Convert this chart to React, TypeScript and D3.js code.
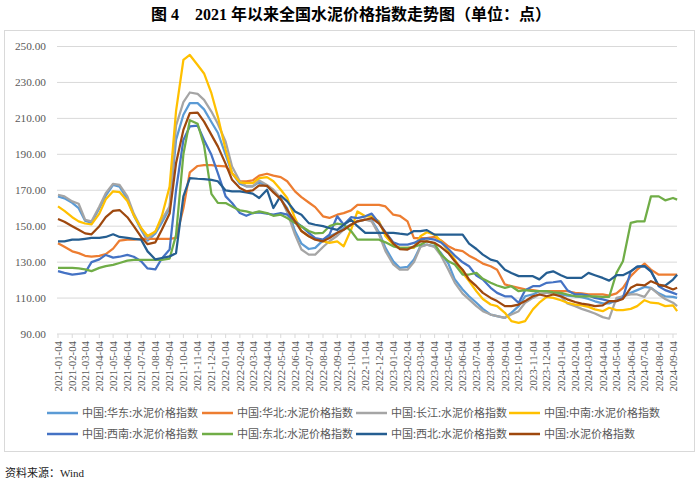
import * as d3 from 'd3'

// month labels on the x axis (Excel date axis, 4th of each month)
const tickLabels = [
  '2021-01-04', '2021-02-04', '2021-03-04', '2021-04-04', '2021-05-04', '2021-06-04',
  '2021-07-04', '2021-08-04', '2021-09-04', '2021-10-04', '2021-11-04', '2021-12-04',
  '2022-01-04', '2022-02-04', '2022-03-04', '2022-04-04', '2022-05-04', '2022-06-04',
  '2022-07-04', '2022-08-04', '2022-09-04', '2022-10-04', '2022-11-04', '2022-12-04',
  '2023-01-04', '2023-02-04', '2023-03-04', '2023-04-04', '2023-05-04', '2023-06-04',
  '2023-07-04', '2023-08-04', '2023-09-04', '2023-10-04', '2023-11-04', '2023-12-04',
  '2024-01-04', '2024-02-04', '2024-03-04', '2024-04-04', '2024-05-04', '2024-06-04',
  '2024-07-04', '2024-08-04', '2024-09-04',
]

// sample dates: 4th and 18th of each month, last point 2024-09-13
const dates = tickLabels.flatMap((t, i) =>
  i < tickLabels.length - 1 ? [t, t.slice(0, 8) + '18'] : [t, '2024-09-13']
)

const yTicks = [90, 110, 130, 150, 170, 190, 210, 230, 250]

const huadong = [
  166.5, 165.5, 163, 160, 153, 152, 160, 167, 173, 172,
  165, 156, 148, 142, 146, 152, 160, 198, 212, 218.5,
  218.5, 215, 208, 202, 189.7, 179.5, 173.6, 172.2, 172.2, 174.4,
  172.2, 169.4, 165.1, 160.1, 147.3, 140.3, 137.3, 137.9, 142.1, 144.4,
  146.3, 149, 150.8, 152.7, 153.6, 153.2, 146.6, 137.9, 130.4, 126.8,
  127.3, 131.4, 138.8, 139.7, 138.8, 135, 129.2, 120.3, 114.8, 111,
  107.4, 104, 100.8, 99.9, 99, 101.8, 105.5, 111, 112, 113.8,
  113.8, 112.9, 112, 111.4, 111, 110.5, 109.5, 108.2, 107, 107,
  108.8, 111, 112.9, 114.4, 116.2, 115.7, 112.6, 111, 110.7, 110.1,
]

const huabei = [
  140.5, 138.5, 136, 135, 133.5, 133, 133.5, 134.5, 137.5, 142,
  142.5, 142.5, 143, 143, 143, 143, 143, 143.5, 160, 180,
  183.5, 184, 184, 183.5, 183.3, 179.5, 175, 175, 175.5, 178.1,
  179.2, 178.1, 177.3, 175, 169.4, 166.2, 163.2, 160.6, 155.5, 154.6,
  156.4, 157.3, 158.8, 161.9, 161.9, 161.9, 161.9, 161, 156.4, 155.8,
  152.7, 143.4, 143.4, 143.4, 144, 142.1, 138.8, 137, 136.1, 133.6,
  131.4, 129.2, 127.7, 125.8, 117.6, 116.6, 115.7, 114.8, 114.4, 113.8,
  113.8, 113.8, 113.8, 113.8, 112.9, 112.6, 112, 112, 112, 111.4,
  112.6, 115.7, 122.2, 125.8, 129.2, 125.8, 123, 123, 123, 123,
]

const changjiang = [
  167.5, 166.6, 163.8, 162.5, 153.6, 152.7, 161, 168.4, 173.6, 173,
  166.6, 157, 149, 143, 147, 153.6, 161, 206, 219, 224.4,
  223.6, 220.3, 213.8, 207, 197, 183.2, 175, 172.2, 172.2, 175.5,
  173, 170.3, 165.7, 157.7, 145.3, 137, 134.2, 134.2, 138.4, 141.6,
  144.7, 148, 150.8, 152.7, 153.6, 152.7, 145.3, 136.1, 128.7, 125.8,
  125.8, 130, 138.4, 139.7, 138.4, 133.6, 125.8, 118.5, 112.5, 109.3,
  105.5, 102.7, 100.8, 99.9, 99, 100.8, 102.7, 107.4, 110.1, 112,
  112.9, 112.9, 110.7, 107, 105.5, 104, 102.7, 101.4, 99.4, 98.5,
  110.1, 111, 112, 112, 110.7, 115.7, 112, 109.5, 107.4, 105.5,
]

const zhongnan = [
  161, 158.5, 155, 152.7, 151.5, 151, 157, 165, 169.4, 169,
  164, 156, 149, 144.5, 147, 155.5, 172, 214, 242.5, 245.3,
  239.7, 235, 224, 211, 192.5, 179.5, 174.4, 174, 174, 176.8,
  177.3, 175, 170.3, 165.7, 154.5, 147.3, 144.4, 142.9, 141.6, 140.7,
  141.6, 138.8, 148, 158.2, 155.5, 155.5, 152.7, 144.4, 139.8, 138,
  138, 138, 144.4, 146.6, 145.3, 141.6, 136.1, 131.4, 124, 119.4,
  113.8, 109.5, 106.4, 105.5, 101.8, 97.2, 96.2, 97.2, 103.7, 107.4,
  110.7, 110.1, 108.8, 107.4, 106.4, 105.9, 105.1, 103.7, 102.7, 104.6,
  103.3, 103.3, 104, 105.5, 108.8, 107.4, 107, 105.5, 105.9, 102.7,
]

const xinan = [
  125, 124, 123, 123.5, 124, 130, 131.5, 134, 132.5, 133,
  134, 133, 130.5, 126.5, 126, 132, 137, 170, 198, 205.5,
  206, 198, 189.7, 179.5, 166.6, 162.9, 157.3, 155.8, 157.3, 157.7,
  157, 156.4, 157.3, 156.4, 152.7, 150, 146.3, 143.4, 142.5, 145.3,
  155.5, 150.8, 155, 154.5, 155.5, 157, 151.7, 146.7, 141, 139.7,
  139.7, 140.7, 142.5, 143.2, 142.5, 141, 137.3, 133.6, 129.9, 127.7,
  122.5, 120.3, 115.7, 112.9, 111, 111, 107.3, 114.4, 116.6, 116.6,
  118.5, 118.8, 119.4, 114.4, 112, 112, 111.4, 110.1, 109.3, 108.3,
  108.3, 110.1, 124.9, 127.5, 127.8, 124.9, 116.6, 114.4, 112.9, 112,
]

const dongbei = [
  126.8, 126.8, 126.8, 126.5, 126, 125, 126.8, 127.8, 128.5, 129.5,
  130.8, 131.3, 131.3, 131.3, 131.3, 131.3, 132, 145, 190, 209,
  207, 195, 168, 163, 162.9, 161, 158.8, 158.2, 157.3, 158.2,
  157.3, 155.8, 156.4, 154.5, 151.8, 150, 147.3, 146, 146.3, 150,
  151.4, 150.8, 147.3, 142.5, 142.5, 142.5, 142.5, 141, 138.8, 137.9,
  137.9, 138.4, 139.7, 141.6, 140.3, 134.2, 130.5, 128.7, 123.1, 123.1,
  124, 120.7, 118.5, 117, 115.7, 116.6, 113.8, 114.4, 113.8, 113.8,
  113.8, 113.2, 112.9, 112, 111, 111, 111, 111, 110.6, 110.6,
  124, 130.5, 151.8, 152.7, 152.7, 166.6, 166.6, 164.4, 165.7, 164.8,
]

const xibei = [
  141.5, 141.5, 142.5, 142.5, 143, 143.5, 143.5, 144, 145.5, 144,
  143.5, 143, 142.5, 136, 131.5, 132.3, 133.2, 135, 166.6, 176.8,
  176.4, 176.2, 175.8, 175, 169.9, 169.4, 169.4, 168.8, 168.1, 165.7,
  170.3, 160.1, 167, 163.8, 158.2, 156.4, 151.7, 150.8, 150, 149,
  148, 150.8, 153.6, 150, 146.3, 146.3, 146.3, 146.3, 146.3, 145.8,
  145.3, 147.3, 147.3, 147.8, 145.3, 145.3, 145.3, 145.3, 145.3, 140.3,
  137.3, 134.2, 131.4, 130.5, 125.8, 124, 122.2, 122.2, 122.2, 120.4,
  124, 124.9, 122.7, 121.2, 121.2, 121.2, 124, 122.7, 121.2, 119.7,
  122.7, 122.7, 124.9, 127.5, 127.8, 124.9, 116.9, 116.9, 120.3, 123,
]

const quanguo = [
  154, 152.5, 150, 148, 146, 145.5, 150, 155, 158.5, 159,
  155, 150, 144, 140, 141, 148, 157, 185, 203.6, 212.9,
  213.2, 208.2, 200.8, 194.4, 184.7, 175.8, 171.2, 169.4, 169.9, 172.7,
  172.5, 168.8, 165.1, 159.2, 152.7, 147.3, 144.4, 142.5, 141.6, 143.4,
  146.3, 148, 150.8, 152.7, 153.6, 154.5, 151.4, 146.3, 140.3, 137.3,
  137, 138.8, 141.6, 141.6, 140.7, 138.4, 135, 130.5, 125.8, 120.3,
  116.6, 112.9, 110.1, 108.3, 105.5, 105.5, 106.4, 108.3, 111, 112,
  111, 112, 111, 109.3, 107.8, 106.9, 106.3, 105.5, 105.9, 108.3,
  108.3, 109.5, 115.7, 117.5, 117, 119.4, 117.5, 116.6, 114.8, 115.7,
]

const series = [
  { name: '中国:华东:水泥价格指数', color: '#5B9BD5', values: huadong },
  { name: '中国:华北:水泥价格指数', color: '#ED7D31', values: huabei },
  { name: '中国:长江:水泥价格指数', color: '#A5A5A5', values: changjiang },
  { name: '中国:中南:水泥价格指数', color: '#FFC000', values: zhongnan },
  { name: '中国:西南:水泥价格指数', color: '#4472C4', values: xinan },
  { name: '中国:东北:水泥价格指数', color: '#70AD47', values: dongbei },
  { name: '中国:西北:水泥价格指数', color: '#255E91', values: xibei },
  { name: '中国:水泥价格指数', color: '#9E480E', values: quanguo },
]

const W = 700
const H = 481
const serif = "'Liberation Serif', 'Times New Roman', 'DejaVu Serif', 'Noto Sans CJK SC'"
const cjk = "'Noto Sans CJK SC', sans-serif"

export default function App() {
  const parse = d3.timeParse('%Y-%m-%d')
  const x = d3
    .scaleTime()
    .domain([parse('2021-01-04')!, parse('2024-09-04')!])
    .range([58, 673])
  const y = d3.scaleLinear().domain([90, 250]).range([334, 46.5])
  const fmt = d3.format('.2f')
  const parsedDates = dates.map(d => parse(d)!)

  const line = d3
    .line<number>()
    .x((_, i) => x(parsedDates[i]))
    .y(d => y(d))

  const legendCols = [47, 202, 356, 509]
  const legendRows = [413, 434]

  return (
    <svg
      width={W}
      height={H}
      style={{ position: 'absolute', left: 0, top: 0, background: '#fff' }}
    >
      <text
        x={351}
        y={20}
        textAnchor="middle"
        style={{ fontFamily: serif, fontWeight: 'bold', fontSize: 16 }}
        fill="#000"
      >
        图 4　2021 年以来全国水泥价格指数走势图（单位：点）
      </text>

      <rect x={4.5} y={30.5} width={690} height={421} fill="#fff" stroke="#d9d9d9" />

      {/* grid + y labels */}
      {yTicks.map(t => (
        <g key={t}>
          <line x1={57} x2={677} y1={y(t)} y2={y(t)} stroke="#d9d9d9" strokeWidth={1} />
          <text
            x={46}
            y={y(t)}
            dy="0.35em"
            textAnchor="end"
            style={{ fontFamily: serif, fontSize: 11.3 }}
            fill="#595959"
          >
            {fmt(t)}
          </text>
        </g>
      ))}

      {/* x axis ticks + labels */}
      {tickLabels.map(t => {
        const px = x(parse(t)!)
        return (
          <g key={t}>
            <line x1={px} x2={px} y1={334} y2={338} stroke="#d9d9d9" />
            <text
              transform={`translate(${px},341) rotate(-90)`}
              dy="0.35em"
              textAnchor="end"
              style={{ fontFamily: serif, fontSize: 10.8 }}
              fill="#595959"
            >
              {t}
            </text>
          </g>
        )
      })}

      {/* series */}
      {series.map(s => (
        <path
          key={s.name}
          d={line(s.values) ?? ''}
          fill="none"
          stroke={s.color}
          strokeWidth={2.25}
          strokeLinejoin="round"
        />
      ))}

      {/* legend */}
      {series.map((s, i) => {
        const lx = legendCols[i % 4]
        const ly = legendRows[Math.floor(i / 4)]
        return (
          <g key={'lg' + s.name}>
            <line x1={lx} x2={lx + 31} y1={ly} y2={ly} stroke={s.color} strokeWidth={2.5} />
            <text
              x={lx + 35}
              y={ly}
              dy="0.35em"
              style={{ fontFamily: cjk, fontSize: 11 }}
              fill="#595959"
            >
              {s.name}
            </text>
          </g>
        )
      })}

      <text x={5} y={477} style={{ fontFamily: serif, fontSize: 11 }} fill="#222">
        资料来源：Wind
      </text>
    </svg>
  )
}
